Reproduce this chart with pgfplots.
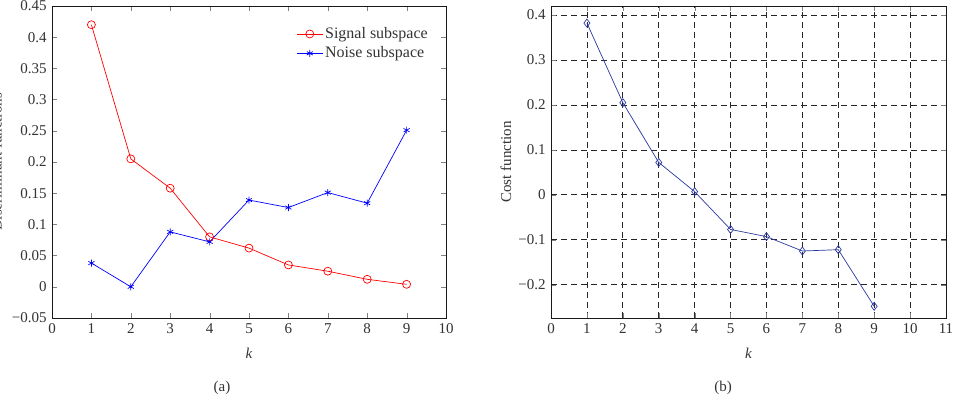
\documentclass[border=0pt]{standalone}
\usepackage{fontspec}
\setmainfont{Liberation Serif}
\usepackage{pgfplots}
\pgfplotsset{compat=1.18}
\definecolor{navy}{RGB}{40,55,160}
\newcommand{\ff}{\fontsize{15pt}{18pt}\selectfont}
\newcommand{\fl}{\fontsize{16pt}{19pt}\selectfont}
\begin{document}
\ff
\begin{tikzpicture}[x=1pt,y=1pt]
\useasboundingbox (0,0) rectangle (958,404);
\pgfplotsset{every axis/.append style={
  scale only axis, anchor=south west, height=312pt,
  tick align=inside, line width=0.6pt,
  major tick length=5pt,
  /pgf/number format/assume math mode=true,
  tick label style={font=\ff, text=black!80},
  label style={font=\ff, text=black!80},
  xlabel style={at={(axis description cs:0.5,0)}, anchor=center, yshift=-35pt},
  axis line style={black!90},
}}
\begin{axis}[at={(52pt,86pt)}, width=394pt,
  xmin=0, xmax=10, ymin=-0.05, ymax=0.45,
  xtick={0,1,2,3,4,5,6,7,8,9,10},
  xticklabels={0,1,2,3,4,5,6,7,8,9,10},
  ytick={-0.05,0,0.05,0.1,0.15,0.2,0.25,0.3,0.35,0.4,0.45},
  yticklabels={−0.05,0,0.05,0.1,0.15,0.2,0.25,0.3,0.35,0.4,0.45},
  xlabel={\itshape k}, ylabel={Discriminant functions},
  ylabel style={at={(ticklabel cs:0.5,0pt)}, anchor=near ticklabel},
  legend style={at={(0.612,1)}, anchor=north west, yshift=-17pt, draw=none, fill=none,
    font=\fl, text=black!80, row sep=2pt},
  legend cell align=left,
  legend image code/.code={\draw[mark repeat=2,mark phase=2] plot coordinates {(0pt,0pt) (13pt,0pt) (26pt,0pt)};},
]
\addplot[red, line width=0.7pt, mark=o, mark size=4pt, mark options={solid}] coordinates {
(1,0.420) (2,0.205) (3,0.158) (4,0.080) (5,0.062) (6,0.035) (7,0.025) (8,0.012) (9,0.004)};
\addlegendentry{Signal subspace}
\addplot[blue, line width=0.7pt, mark=asterisk, mark size=3.5pt] coordinates {
(1,0.038) (2,0.000) (3,0.088) (4,0.072) (5,0.139) (6,0.127) (7,0.151) (8,0.134) (9,0.251)};
\addlegendentry{Noise subspace}
\end{axis}
\begin{axis}[at={(551pt,86pt)}, width=395pt,
  xmin=0, xmax=11, ymin=-0.274, ymax=0.42,
  xtick={0,1,2,3,4,5,6,7,8,9,10,11},
  xticklabels={0,1,2,3,4,5,6,7,8,9,10,11},
  ytick={-0.2,-0.1,0,0.1,0.2,0.3,0.4},
  yticklabels={−0.2,−0.1,0,0.1,0.2,0.3,0.4},
  xlabel={\itshape k}, ylabel={Cost function},
  ylabel style={at={(ticklabel cs:0.5,-3pt)}, anchor=near ticklabel},
  grid=major, grid style={black!85, dash pattern=on 6pt off 4pt, line width=0.7pt},
]
\addplot[navy, line width=0.7pt, mark=diamond, mark size=4pt] coordinates {
(1,0.382) (2,0.205) (3,0.072) (4,0.007) (5,-0.077) (6,-0.093) (7,-0.125) (8,-0.122) (9,-0.248)};
\end{axis}
\node[font=\ff, text=black!80] at (222,16) {(a)};
\node[font=\ff, text=black!80] at (723,16) {(b)};
\end{tikzpicture}
\end{document}
